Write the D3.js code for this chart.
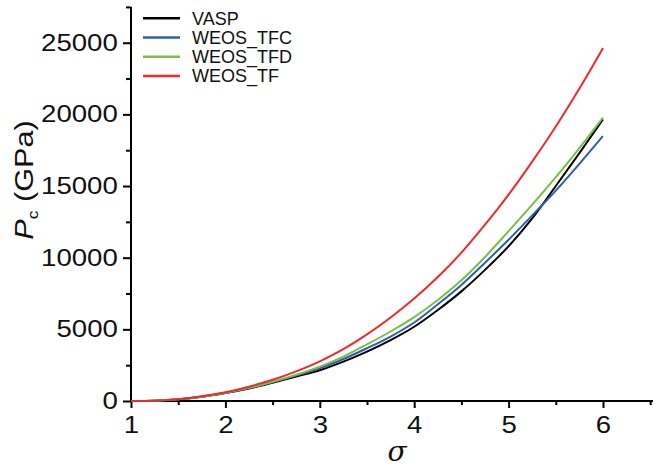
<!DOCTYPE html>
<html>
<head>
<meta charset="utf-8">
<script src="https://cdn.jsdelivr.net/npm/d3@7"></script>
<style>
  html, body { margin: 0; padding: 0; background: #fff; }
  svg { display: block; font-family: "Liberation Sans", Arial, sans-serif; }
</style>
</head>
<body>
<svg id="chart" width="653" height="468"></svg>
<script>
// Reduced distance sigma and the corresponding pressure Pc (GPa) for each model
const sigma = [1, 1.25, 1.5, 1.75, 2, 2.25, 2.5, 2.75, 3, 3.25, 3.5, 3.75, 4, 4.25, 4.5, 4.75, 5, 5.25, 5.5, 5.75, 6];
const vasp    = [0, 20, 110, 290, 550, 870, 1270, 1700, 2150, 2750, 3450, 4250, 5180, 6350, 7650, 9150, 10800, 12750, 15000, 17300, 19650];
const weosTFC = [0, 25, 120, 300, 565, 900, 1310, 1770, 2280, 2930, 3680, 4500, 5480, 6750, 8100, 9650, 11250, 12950, 14680, 16550, 18490];
const weosTFD = [0, 25, 120, 300, 570, 920, 1340, 1830, 2400, 3100, 3950, 4850, 5850, 7050, 8420, 10050, 11850, 13700, 15620, 17650, 19770];
const weosTF  = [0, 25, 130, 330, 610, 1000, 1480, 2070, 2770, 3620, 4650, 5830, 7150, 8650, 10350, 12300, 14400, 16700, 19150, 21800, 24630];

const seriesNames  = ["VASP", "WEOS_TFC", "WEOS_TFD", "WEOS_TF"];
const seriesValues = [vasp, weosTFC, weosTFD, weosTF];
const seriesColors = ["#000000", "#2d5fb0", "#78c043", "#ee2a2a"];

const xTicks = [1, 2, 3, 4, 5, 6];
const xMinorTicks = [1.5, 2.5, 3.5, 4.5, 5.5, 6.5];
const yTicks = [0, 5000, 10000, 15000, 20000, 25000];
const yMinorTicks = [2500, 7500, 12500, 17500, 22500, 27500];

const svg = d3.select("#chart");

const x = d3.scaleLinear().domain([1, 6.5]).range([131, 650.2]);
const y = d3.scaleLinear().domain([0, 27500]).range([401, 6.9]);

// Axes
const axisStyle = g => {
  g.select(".domain").attr("stroke", "#000").attr("stroke-width", 2);
  g.selectAll(".tick line").attr("stroke", "#000").attr("stroke-width", 2);
};
// wide numerals for the tick labels
const tickText = sel => sel
  .attr("font-size", 23)
  .attr("fill", "#111")
  .attr("font-family", "Liberation Sans, Arial, sans-serif");

const xAxis = svg.append("g")
  .attr("transform", `translate(0,${y(0)})`)
  .call(d3.axisBottom(x).tickValues(xTicks).tickFormat(d3.format("d")).tickSize(7).tickSizeOuter(0).tickPadding(9));
xAxis.call(axisStyle);
xAxis.select(".domain").attr("d", `M${x(1)},0H653`);
xAxis.selectAll(".tick text").call(tickText).attr("transform", "scale(1.2,1)");

svg.append("g")
  .attr("transform", `translate(0,${y(0)})`)
  .call(d3.axisBottom(x).tickValues(xMinorTicks).tickFormat("").tickSize(4).tickSizeOuter(0))
  .call(g => g.select(".domain").remove())
  .call(axisStyle);

const yAxis = svg.append("g")
  .attr("transform", `translate(${x(1)},0)`)
  .call(d3.axisLeft(y).tickValues(yTicks).tickFormat(d3.format("d")).tickSize(8).tickSizeOuter(0).tickPadding(3));
yAxis.call(axisStyle);
yAxis.select(".domain").attr("d", `M0,${y(27500)}V${y(0)}`);
yAxis.selectAll(".tick text").call(tickText).attr("transform", "scale(1.2,1)");

svg.append("g")
  .attr("transform", `translate(${x(1)},0)`)
  .call(d3.axisLeft(y).tickValues(yMinorTicks).tickFormat("").tickSize(5).tickSizeOuter(0))
  .call(g => g.select(".domain").remove())
  .call(axisStyle);

// Series curves, drawn over the axes
const line = d3.line()
  .x((d, i) => x(sigma[i]))
  .y(d => y(d))
  .curve(d3.curveMonotoneX);

seriesValues.forEach((vals, k) => {
  svg.append("path")
    .datum(vals)
    .attr("fill", "none")
    .attr("stroke", seriesColors[k])
    .attr("stroke-width", 2)
    .attr("d", line);
});

// Axis titles
svg.append("text")
  .attr("x", 397).attr("y", 461)
  .attr("text-anchor", "middle")
  .attr("font-family", "DejaVu Serif, serif")
  .attr("font-style", "italic")
  .attr("font-size", 28)
  .attr("fill", "#111")
  .text("σ");

const yTitle = svg.append("text")
  .attr("transform", "translate(33,180) rotate(-90) scale(1.18,1)")
  .attr("text-anchor", "middle")
  .attr("font-size", 26)
  .attr("fill", "#111");
yTitle.append("tspan").attr("font-style", "italic").text("P");
yTitle.append("tspan").attr("font-size", 15).attr("dy", 5).text("c");
yTitle.append("tspan").attr("dy", -5).text(" (GPa)");

// Legend
const legend = svg.append("g");
seriesNames.forEach((name, i) => {
  const ly = 18.3 + i * 19.2;
  legend.append("line")
    .attr("x1", 143).attr("x2", 180)
    .attr("y1", ly).attr("y2", ly)
    .attr("stroke", seriesColors[i])
    .attr("stroke-width", 2.5);
  legend.append("text")
    .attr("x", 192).attr("y", ly + 6.5)
    .attr("font-size", 18)
    .attr("fill", "#111")
    .text(name);
});
</script>
</body>
</html>
